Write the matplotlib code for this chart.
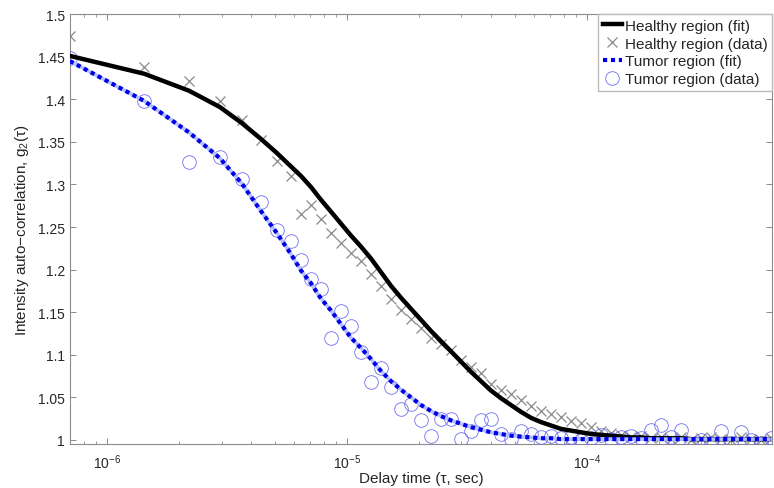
import matplotlib
matplotlib.use("Agg")

import numpy as np
import matplotlib.pyplot as plt
from matplotlib.ticker import LogLocator, FixedLocator, FixedFormatter

plt.rcParams["font.family"] = ["Liberation Sans", "DejaVu Sans"]
plt.rcParams["mathtext.fontset"] = "custom"
plt.rcParams["mathtext.rm"] = "Liberation Sans"
plt.rcParams["mathtext.it"] = "Liberation Sans:italic"
plt.rcParams["mathtext.default"] = "regular"

# delay times in microseconds
tau_us = [0.70, 1.43, 2.2, 2.95, 3.65, 4.4, 5.1, 5.85,
          6.43, 7.08, 7.79, 8.58, 9.44, 10.39, 11.44, 12.59, 13.86, 15.25,
          16.79, 18.48, 20.34, 22.39, 24.64, 27.13, 29.85, 32.86, 36.17, 39.81,
          43.82, 48.23, 53.09, 58.44, 64.32, 70.79, 77.92, 85.77, 94.41, 103.9,
          114.4, 125.9, 138.6, 152.5, 167.9, 184.8, 203.4, 223.9, 246.4, 271.3,
          298.5, 328.6, 361.7, 398.1, 438.2, 482.3, 530.9, 584.4]

healthy_fit = [1.451, 1.430, 1.410, 1.391, 1.372, 1.353, 1.337, 1.321,
               1.310, 1.297, 1.282, 1.268, 1.254, 1.240, 1.227, 1.213, 1.197, 1.181,
               1.167, 1.154, 1.141, 1.128, 1.116, 1.104, 1.092, 1.080, 1.069, 1.058,
               1.049, 1.041, 1.033, 1.026, 1.021, 1.017, 1.013, 1.011, 1.009, 1.007,
               1.006, 1.005, 1.004, 1.003, 1.003, 1.002, 1.002, 1.002, 1.002, 1.001,
               1.001, 1.001, 1.001, 1.001, 1.001, 1.001, 1.001, 1.001]

healthy_data = [1.4745, 1.438, 1.421, 1.398, 1.376, 1.352, 1.327, 1.310,
                1.265, 1.276, 1.260, 1.243, 1.231, 1.220, 1.210, 1.195, 1.181, 1.166,
                1.153, 1.142, 1.131, 1.120, 1.113, 1.106, 1.094, 1.086, 1.079, 1.066,
                1.059, 1.054, 1.047, 1.040, 1.034, 1.031, 1.027, 1.022, 1.020, 1.015,
                1.010, 1.008, 1.006, 1.004, 1.005, 1.002, 1.004, 1.001, 1.003, 1.000,
                1.002, 1.004, 1.001, 1.000, 1.003, 1.001, 1.000, 1.002]

tumor_fit = [1.445, 1.398, 1.361, 1.331, 1.301, 1.268, 1.243, 1.218,
             1.199, 1.184, 1.166, 1.152, 1.136, 1.120, 1.108, 1.095, 1.081, 1.069,
             1.059, 1.050, 1.041, 1.034, 1.028, 1.023, 1.019, 1.015, 1.012, 1.009,
             1.007, 1.005, 1.004, 1.003, 1.002, 1.002, 1.001, 1.001, 1.001, 1.001,
             1.001, 1.001, 1.001, 1.001, 1.001, 1.001, 1.001, 1.001, 1.001, 1.001,
             1.001, 1.001, 1.001, 1.001, 1.001, 1.001, 1.001, 1.001]

tumor_data = [1.449, 1.398, 1.326, 1.332, 1.306, 1.280, 1.246, 1.234,
              1.211, 1.189, 1.177, 1.120, 1.152, 1.134, 1.103, 1.068, 1.085, 1.062,
              1.036, 1.042, 1.023, 1.005, 1.025, 1.025, 1.001, 1.010, 1.023, 1.025,
              1.007, 1.001, 1.011, 1.007, 1.003, 1.005, 1.002, 1.004, 1.000, 1.002,
              1.006, 1.001, 1.003, 1.005, 1.002, 1.012, 1.017, 1.004, 1.012, 0.995,
              1.000, 0.997, 1.010, 0.996, 1.009, 1.000, 0.997, 1.002]

y_ticks = [1, 1.05, 1.1, 1.15, 1.2, 1.25, 1.3, 1.35, 1.4, 1.45, 1.5]
y_tick_labels = ["1", "1.05", "1.1", "1.15", "1.2", "1.25", "1.3", "1.35", "1.4", "1.45", "1.5"]

tau = np.array(tau_us) * 1e-6

fig = plt.figure(figsize=(7.74, 4.89), dpi=100)
ax = fig.add_axes([0.0904, 0.089, 0.907, 0.880])

edge = "#8c8c8c"
txt = "#262626"

ax.plot(tau, healthy_fit, color="black", lw=3.2, label="Healthy region (fit)", zorder=4)
ax.plot(tau, healthy_data, ls="none", marker="x", ms=6.5, mew=0.9, color="#8a8a8a",
        label="Healthy region (data)", zorder=3)
# pale halo under the dotted fit
ax.plot(tau, tumor_fit, color="#b4c0ff", lw=2.6, zorder=4.5)
ax.plot(tau, tumor_fit, color="#0000e6", lw=3.0, ls=(0, (1.0, 0.9)),
        label="Tumor region (fit)", zorder=5)
ax.plot(tau, tumor_data, ls="none", marker="o", ms=9.8, mew=0.6, mfc="none",
        mec="#6f6ff2", label="Tumor region (data)", zorder=3)

ax.set_xscale("log")
ax.set_xlim(7.01e-7, 5.9e-4)
ax.set_ylim(0.9947, 1.5)

ax.xaxis.set_major_locator(LogLocator(base=10))
ax.xaxis.set_minor_locator(LogLocator(base=10, subs=np.arange(2, 10)))
ax.yaxis.set_major_locator(FixedLocator(y_ticks))
ax.yaxis.set_major_formatter(FixedFormatter(y_tick_labels))

ax.tick_params(which="both", direction="in", top=True, right=True,
               color=edge, labelcolor=txt, labelsize=10)
ax.tick_params(which="major", length=4, width=0.7)
ax.tick_params(which="minor", length=2.5, width=0.6)
ax.tick_params(axis="x", pad=6)
for s in ax.spines.values():
    s.set_color(edge)
    s.set_linewidth(0.8)

ax.set_xlabel("Delay time (\u03c4, sec)", fontsize=11, color=txt, labelpad=0)
ax.set_ylabel("Intensity auto\u2212correlation, g$_2$(\u03c4)", fontsize=11,
              color=txt, labelpad=5)

leg = ax.legend(loc="upper right", fontsize=11, handlelength=1.3, handletextpad=0.15,
                borderpad=0.3, labelspacing=0.25, borderaxespad=0.0,
                fancybox=False, framealpha=1, edgecolor="#bbbbbb")
for t in leg.get_texts():
    t.set_color(txt)

fig.savefig("out.png", dpi=100)
